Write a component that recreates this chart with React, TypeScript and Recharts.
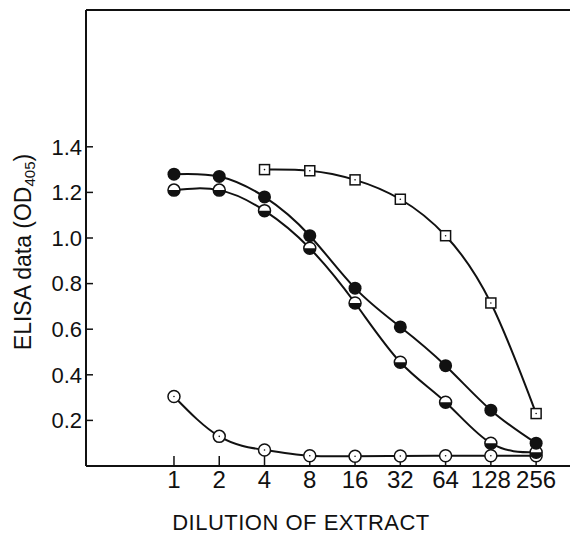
import { LineChart, Line, XAxis, YAxis, ReferenceLine, Label } from 'recharts'

const dilutions = [1, 2, 4, 8, 16, 32, 64, 128, 256]
const filledCircle = [1.28, 1.27, 1.18, 1.01, 0.78, 0.61, 0.44, 0.245, 0.1]
const halfCircle = [1.21, 1.21, 1.12, 0.955, 0.715, 0.455, 0.28, 0.1, 0.06]
const openSquare = [null, null, 1.3, 1.295, 1.255, 1.17, 1.01, 0.715, 0.23]
const openCircle = [0.305, 0.13, 0.07, 0.045, 0.043, 0.044, 0.045, 0.045, 0.045]
const yTicks = [0.2, 0.4, 0.6, 0.8, 1.0, 1.2, 1.4]

const data = dilutions.map((d, i) => ({
  dilution: d,
  filled: filledCircle[i],
  half: halfCircle[i],
  square: openSquare[i],
  open: openCircle[i],
}))

const FONT = '"Liberation Sans", Arial, sans-serif'
const INK = '#111'

// marker shapes
const FilledDot = (props: any) => {
  const { cx, cy, index } = props
  if (cx == null || cy == null) return null
  return <circle key={`f-${index}`} cx={cx} cy={cy} r={6.5} fill={INK} />
}

const HalfDot = (props: any) => {
  const { cx, cy, index } = props
  if (cx == null || cy == null) return null
  const r = 6
  return (
    <g key={`h-${index}`}>
      <circle cx={cx} cy={cy} r={r} fill="#fff" stroke={INK} strokeWidth={1.5} />
      <path d={`M${cx - r},${cy} A${r},${r} 0 0 0 ${cx + r},${cy} Z`} fill={INK} />
    </g>
  )
}

const OpenDot = (props: any) => {
  const { cx, cy, index } = props
  if (cx == null || cy == null) return null
  return (
    <g key={`o-${index}`}>
      <circle cx={cx} cy={cy} r={6} fill="#fff" stroke={INK} strokeWidth={1.5} />
      <circle cx={cx} cy={cy} r={0.8} fill={INK} />
    </g>
  )
}

const SquareDot = (props: any) => {
  const { cx, cy, index, value } = props
  if (cx == null || cy == null || value == null) return null
  const s = 10
  return (
    <g key={`s-${index}`}>
      <rect x={cx - s / 2} y={cy - s / 2} width={s} height={s} fill="#fff" stroke={INK} strokeWidth={1.5} />
      <circle cx={cx} cy={cy} r={0.8} fill={INK} />
    </g>
  )
}

const YTitle = (props: any) => {
  const { x, y, height } = props.viewBox
  const cx = x + 23
  const cy = y + height / 2 + 14
  return (
    <text
      x={cx}
      y={cy}
      transform={`rotate(-90, ${cx}, ${cy})`}
      textAnchor="middle"
      dominantBaseline="central"
      fontFamily={FONT}
      fontSize={23}
      fill={INK}
    >
      ELISA data (OD
      <tspan fontSize={15} dy={6}>405</tspan>
      <tspan dy={-6}>)</tspan>
    </text>
  )
}

export default function App() {
  return (
    <div style={{ position: 'absolute', left: 0, top: 0, width: 570, height: 534, background: '#fff' }}>
      <LineChart
        width={570}
        height={534}
        data={data}
        margin={{ top: 10, right: 0, bottom: 0, left: 0 }}
      >
        <XAxis
          dataKey="dilution"
          type="number"
          scale="log"
          domain={[0.26, 430]}
          ticks={dilutions}
          allowDataOverflow
          height={68}
          tickSize={-10}
          tickMargin={15}
          axisLine={{ stroke: INK, strokeWidth: 2 }}
          tickLine={{ stroke: INK, strokeWidth: 1.5 }}
          tick={{ fill: INK, fontSize: 24, fontFamily: FONT }}
        >
          <Label
            value="DILUTION OF EXTRACT"
            position="insideBottom"
            offset={4}
            dx={-27}
            fill={INK}
            fontSize={22}
            fontFamily={FONT}
            letterSpacing={0.5}
          />
        </XAxis>
        <YAxis
          type="number"
          domain={[0, 2]}
          ticks={yTicks}
          width={86}
          tickSize={-7}
          tickMargin={11}
          tickFormatter={(v: number) => v.toFixed(1)}
          axisLine={{ stroke: INK, strokeWidth: 2 }}
          tickLine={{ stroke: INK, strokeWidth: 1.5 }}
          tick={{ fill: INK, fontSize: 22, fontFamily: FONT }}
        >
          <Label content={<YTitle />} />
        </YAxis>
        <ReferenceLine y={2} stroke={INK} strokeWidth={2} />
        <Line type="natural" dataKey="open" stroke={INK} strokeWidth={2} dot={<OpenDot />} isAnimationActive={false} />
        <Line type="natural" dataKey="half" stroke={INK} strokeWidth={2} dot={<HalfDot />} isAnimationActive={false} />
        <Line type="natural" dataKey="filled" stroke={INK} strokeWidth={2} dot={<FilledDot />} isAnimationActive={false} />
        <Line type="natural" dataKey="square" stroke={INK} strokeWidth={2} dot={<SquareDot />} isAnimationActive={false} />
      </LineChart>
    </div>
  )
}
